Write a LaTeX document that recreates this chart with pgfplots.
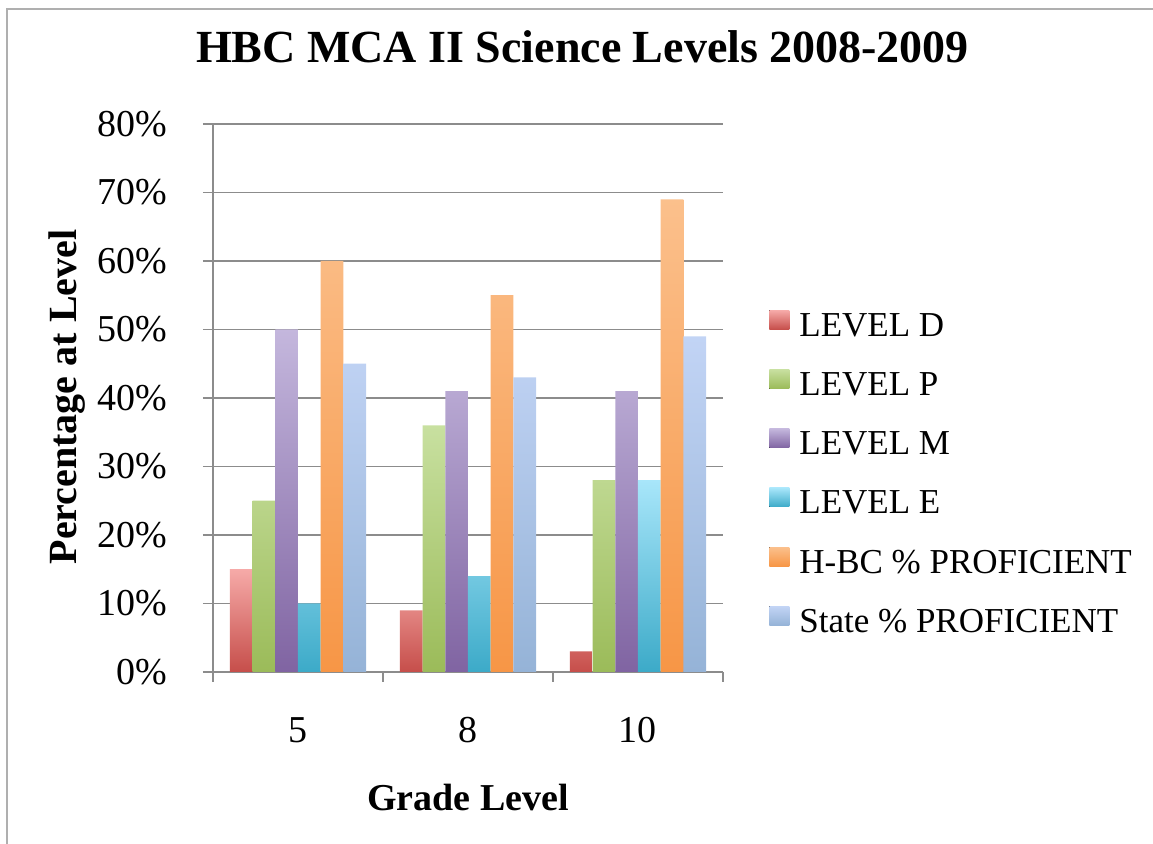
\documentclass[border=0pt]{standalone}
\usepackage{fontspec}
\setmainfont{Liberation Serif}
\usepackage{pgfplots}
\pgfplotsset{compat=1.18}
\definecolor{gridgray}{RGB}{140,140,140}
\definecolor{framegray}{RGB}{175,175,175}
\definecolor{Dtop}{RGB}{246,170,168}\definecolor{Dbot}{RGB}{198,78,74}
\definecolor{Ptop}{RGB}{200,224,160}\definecolor{Pbot}{RGB}{155,187,89}
\definecolor{Mtop}{RGB}{196,183,221}\definecolor{Mbot}{RGB}{128,100,162}
\definecolor{Etop}{RGB}{168,230,250}\definecolor{Ebot}{RGB}{60,170,200}
\definecolor{Htop}{RGB}{251,192,140}\definecolor{Hbot}{RGB}{247,150,70}
\definecolor{Stop}{RGB}{194,212,245}\definecolor{Sbot}{RGB}{149,179,215}
\begin{document}
\begin{tikzpicture}
\useasboundingbox (0,0) rectangle (576.5pt,422pt);
\draw[framegray, line width=1pt] (3.5pt,-20pt) rectangle (600pt,417.5pt);
\begin{axis}[
  at={(106.5pt,86pt)}, anchor=south west,
  scale only axis, width=255pt, height=274pt,
  ymin=0, ymax=80, xmin=-0.5, xmax=2.5,
  ybar=0pt, bar width=11.35pt,
  axis lines*=left,
  axis line style={gridgray, line width=0.8pt},
  ymajorgrids, grid style={gridgray, line width=0.8pt},
  ytick={0,10,...,80},
  yticklabels={0\%,10\%,20\%,30\%,40\%,50\%,60\%,70\%,80\%},
  xtick={-0.5,0.5,1.5,2.5}, xticklabels={},
  extra x ticks={0,1,2}, extra x tick labels={5,8,10},
  extra x tick style={major tick length=0pt, xticklabel style={anchor=base, yshift=-35.5pt}},
  tick align=outside, major tick length=5pt,
  tick style={gridgray, line width=0.8pt},
  tick label style={font=\fontsize{19}{22}\selectfont},
  yticklabel style={anchor=east, inner sep=0pt, xshift=-17.5pt},
  title={HBC MCA II Science Levels 2008-2009},
  title style={font=\bfseries\fontsize{23}{27}\selectfont, at={(axis description cs:0.7245,1.0894)}, anchor=base},
  xlabel={Grade Level},
  xlabel style={font=\bfseries\fontsize{19}{22}\selectfont, at={(axis description cs:0.5,-0.2536)}, anchor=base},
  ylabel={Percentage at Level},
  ylabel style={font=\bfseries\fontsize{20}{23}\selectfont, at={(axis description cs:-0.2686,0.5018)}, anchor=base},
  legend style={at={(axis description cs:1.0902,0.6606)}, anchor=north west, draw=none, fill=none,
    inner sep=0pt, row sep=12.6pt, column sep=5pt, font=\fontsize{17.5}{20}\selectfont,
    nodes={inner sep=0pt, text height=13pt, text depth=4pt, anchor=base west}},
  legend cell align=left,
  legend image code/.code={\fill[#1] (0pt,3.5pt) rectangle (10pt,13pt);},
]
\addplot[draw=none, top color=Dtop, bottom color=Dbot] coordinates {(0,15) (1,9) (2,3)};
\addplot[draw=none, top color=Ptop, bottom color=Pbot] coordinates {(0,25) (1,36) (2,28)};
\addplot[draw=none, top color=Mtop, bottom color=Mbot] coordinates {(0,50) (1,41) (2,41)};
\addplot[draw=none, top color=Etop, bottom color=Ebot] coordinates {(0,10) (1,14) (2,28)};
\addplot[draw=none, top color=Htop, bottom color=Hbot] coordinates {(0,60) (1,55) (2,69)};
\addplot[draw=none, top color=Stop, bottom color=Sbot] coordinates {(0,45) (1,43) (2,49)};
\legend{LEVEL D, LEVEL P, LEVEL M, LEVEL E, H-BC \% PROFICIENT, State \% PROFICIENT}
\end{axis}
\end{tikzpicture}
\end{document}
